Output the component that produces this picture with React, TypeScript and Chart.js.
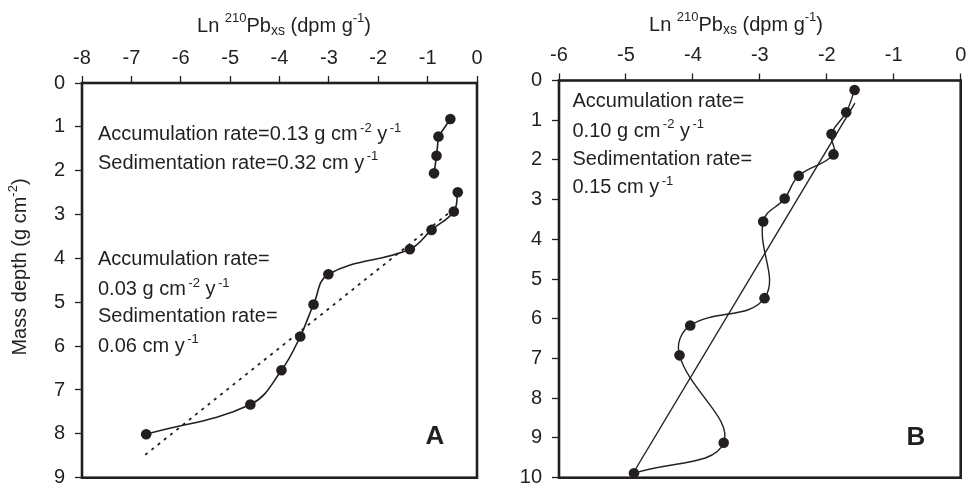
import React, { useEffect, useRef } from "react";
import { Chart, registerables } from "chart.js";

Chart.register(...registerables);

const FONT = '"Liberation Sans", Arial, Helvetica, sans-serif';
const INK = "#231f20";

// ---------- Panel A data ----------
const aLnMin = -8;
const aLnMax = 0;
const aDepthMax = 9;
const aSurfaceLn = [-0.54, -0.78, -0.82, -0.87];
const aSurfaceDepth = [0.82, 1.22, 1.66, 2.06];
const aDeepLn = [-0.39, -0.47, -0.92, -1.36, -3.01, -3.31, -3.58, -3.96, -4.59, -6.7];
const aDeepDepth = [2.49, 2.93, 3.35, 3.79, 4.36, 5.05, 5.78, 6.55, 7.33, 8.01];
const aFitLn = [-6.72, -0.5];
const aFitDepth = [8.48, 2.9];

// ---------- Panel B data ----------
const bLnMin = -6;
const bLnMax = 0;
const bDepthMax = 10;
const bLn = [-1.585, -1.71, -1.93, -1.9, -2.42, -2.63, -2.95, -2.93, -4.04, -4.2, -3.54, -4.88];
const bDepth = [0.24, 0.8, 1.35, 1.86, 2.4, 2.97, 3.55, 5.48, 6.17, 6.92, 9.12, 9.89];
const bFitLn = [-1.58, -4.88];
const bFitDepth = [0.57, 9.85];

type Part = { t: string; s?: "sup" | "sub"; gap?: number };

const titleParts: Part[] = [
  { t: "Ln " },
  { t: "210", s: "sup" },
  { t: "Pb" },
  { t: "xs", s: "sub" },
  { t: " (dpm g" },
  { t: "-1", s: "sup" },
  { t: ")" },
];
const yTitleParts: Part[] = [{ t: "Mass depth (g cm" }, { t: "-2", s: "sup" }, { t: ")" }];

const aNotes: Part[][] = [
  [{ t: "Accumulation rate=0.13 g cm" }, { t: "-2", s: "sup", gap: 2.5 }, { t: " y" }, { t: "-1", s: "sup", gap: 2.5 }],
  [{ t: "Sedimentation rate=0.32 cm y" }, { t: "-1", s: "sup", gap: 2.5 }],
  [{ t: "Accumulation rate=" }],
  [{ t: "0.03 g cm" }, { t: "-2", s: "sup", gap: 2.5 }, { t: " y" }, { t: "-1", s: "sup", gap: 2.5 }],
  [{ t: "Sedimentation rate=" }],
  [{ t: "0.06 cm y" }, { t: "-1", s: "sup", gap: 2.5 }],
];
const aNoteBaselines = [140, 168.5, 265, 295, 321.7, 351.7];
const bNotes: Part[][] = [
  [{ t: "Accumulation rate=" }],
  [{ t: "0.10 g cm" }, { t: "-2", s: "sup", gap: 2.5 }, { t: " y" }, { t: "-1", s: "sup", gap: 2.5 }],
  [{ t: "Sedimentation rate=" }],
  [{ t: "0.15 cm y" }, { t: "-1", s: "sup", gap: 2.5 }],
];
const bNoteBaselines = [107.3, 136.7, 165, 193.3];

interface RichOpts {
  size: number;
  supSize: number;
  supRise: number;
  subSize: number;
  subDrop: number;
  align: "left" | "center";
}

function fontOf(px: number, bold = false) {
  return `${bold ? "bold " : ""}${px}px ${FONT}`;
}

function drawRich(ctx: CanvasRenderingContext2D, parts: Part[], x: number, y: number, o: RichOpts) {
  const sizeOf = (p: Part) => (p.s === "sup" ? o.supSize : p.s === "sub" ? o.subSize : o.size);
  let total = 0;
  for (const p of parts) {
    ctx.font = fontOf(sizeOf(p));
    total += ctx.measureText(p.t).width + (p.gap || 0);
  }
  let cx = o.align === "center" ? x - total / 2 : x;
  ctx.textAlign = "left";
  ctx.textBaseline = "alphabetic";
  for (const p of parts) {
    ctx.font = fontOf(sizeOf(p));
    cx += p.gap || 0;
    const dy = p.s === "sup" ? -o.supRise : p.s === "sub" ? o.subDrop : 0;
    ctx.fillText(p.t, cx, y + dy);
    cx += ctx.measureText(p.t).width;
  }
}

const noteOpts: RichOpts = { size: 20, supSize: 13, supRise: 8.5, subSize: 14, subDrop: 3, align: "left" };
const titleOpts: RichOpts = { size: 20, supSize: 13, supRise: 10, subSize: 14, subDrop: 3, align: "center" };

interface PanelCfg {
  left: number;
  right: number;
  top: number;
  bottom: number;
  xMin: number;
  xMax: number;
  yMax: number;
  datasets: any[];
  titleX: number;
  titleY: number;
  notes: Part[][];
  noteBaselines: number[];
  noteX: number;
  letter: string;
  letterX: number;
  letterY: number;
  yTitle: boolean;
}

const W = 966;
const H = 486;

function pts(xs: number[], ys: number[]) {
  return xs.map((x, i) => ({ x, y: ys[i] }));
}

function makeChart(canvas: HTMLCanvasElement, c: PanelCfg) {
  const tickFont = { size: 20, family: FONT };
  const grid = {
    drawOnChartArea: false,
    drawTicks: true,
    tickLength: 7,
    tickWidth: 1.3,
    tickColor: INK,
    color: INK,
  };
  const deco = {
    id: "deco",
    beforeDatasetsDraw(chart: any) {
      const ctx = chart.ctx as CanvasRenderingContext2D;
      const a = chart.chartArea;
      ctx.save();
      ctx.strokeStyle = INK;
      ctx.lineWidth = 2.6;
      ctx.strokeRect(a.left, a.top, a.right - a.left, a.bottom - a.top);
      ctx.restore();
    },
    afterDraw(chart: any) {
      const ctx = chart.ctx as CanvasRenderingContext2D;
      ctx.save();
      ctx.fillStyle = INK;
      drawRich(ctx, titleParts, c.titleX, c.titleY, titleOpts);
      c.notes.forEach((n, i) => drawRich(ctx, n, c.noteX, c.noteBaselines[i], noteOpts));
      ctx.font = fontOf(26, true);
      ctx.textAlign = "left";
      ctx.textBaseline = "alphabetic";
      ctx.fillText(c.letter, c.letterX, c.letterY);
      if (c.yTitle) {
        ctx.save();
        ctx.translate(26, 267);
        ctx.rotate(-Math.PI / 2);
        drawRich(ctx, yTitleParts, 0, 0, { ...titleOpts, supRise: 9 });
        ctx.restore();
      }
      ctx.restore();
    },
  };
  return new Chart(canvas, {
    type: "scatter",
    data: { datasets: c.datasets },
    options: {
      animation: false,
      responsive: false,
      devicePixelRatio: 1,
      events: [],
      layout: {
        padding: { left: 0, right: W - c.right, top: 0, bottom: H - c.bottom },
      },
      plugins: { legend: { display: false }, tooltip: { enabled: false } },
      scales: {
        x: {
          type: "linear",
          position: "top",
          min: c.xMin,
          max: c.xMax,
          ticks: { stepSize: 1, font: tickFont, color: INK, padding: 6, maxRotation: 0, autoSkip: false },
          grid,
          border: { display: false },
          afterFit(s: any) {
            s.height = c.top;
            s.paddingLeft = 0;
            s.paddingRight = 0;
          },
        },
        y: {
          type: "linear",
          position: "left",
          reverse: true,
          min: 0,
          max: c.yMax,
          ticks: { stepSize: 1, font: tickFont, color: INK, padding: 10, autoSkip: false },
          grid,
          border: { display: false },
          afterFit(s: any) {
            s.width = c.left;
            s.paddingTop = 0;
            s.paddingBottom = 0;
          },
        },
      },
    } as any,
    plugins: [deco],
  });
}

const markerStyle = {
  pointRadius: 5.3,
  pointBackgroundColor: INK,
  pointBorderColor: INK,
  pointBorderWidth: 0,
  borderColor: INK,
  borderWidth: 1.6,
  showLine: true,
  clip: false,
};

export default function App() {
  const refA = useRef<HTMLCanvasElement>(null);
  const refB = useRef<HTMLCanvasElement>(null);

  useEffect(() => {
    const chartA = makeChart(refA.current!, {
      left: 82,
      right: 477,
      top: 83,
      bottom: 477.7,
      xMin: aLnMin,
      xMax: aLnMax,
      yMax: aDepthMax,
      datasets: [
        {
          data: pts(aFitLn, aFitDepth),
          showLine: true,
          pointRadius: 0,
          borderColor: INK,
          borderWidth: 1.8,
          borderDash: [3, 5],
          tension: 0,
          clip: false,
        },
        { ...markerStyle, data: pts(aDeepLn, aDeepDepth), tension: 0.4 },
        { ...markerStyle, data: pts(aSurfaceLn, aSurfaceDepth), tension: 0 },
      ],
      titleX: 284,
      titleY: 32.3,
      notes: aNotes,
      noteBaselines: aNoteBaselines,
      noteX: 98,
      letter: "A",
      letterX: 425.5,
      letterY: 444,
      yTitle: true,
    });

    const chartB = makeChart(refB.current!, {
      left: 559,
      right: 962,
      top: 80.5,
      bottom: 477.7,
      xMin: bLnMin,
      xMax: bLnMax,
      yMax: bDepthMax,
      datasets: [
        {
          data: pts(bFitLn, bFitDepth),
          showLine: true,
          pointRadius: 0,
          borderColor: INK,
          borderWidth: 1.4,
          tension: 0,
          clip: false,
        },
        { ...markerStyle, data: pts(bLn, bDepth), tension: 0.4, borderWidth: 1.4 },
      ],
      titleX: 736,
      titleY: 31,
      notes: bNotes,
      noteBaselines: bNoteBaselines,
      noteX: 572.5,
      letter: "B",
      letterX: 906.5,
      letterY: 445,
      yTitle: false,
    });

    return () => {
      chartA.destroy();
      chartB.destroy();
    };
  }, []);

  const cs: React.CSSProperties = { position: "absolute", left: 0, top: 0, width: W, height: H };
  return (
    <div style={{ position: "fixed", left: 0, top: 0, width: W, height: H, background: "#fff" }}>
      <canvas ref={refA} width={W} height={H} style={cs} />
      <canvas ref={refB} width={W} height={H} style={cs} />
    </div>
  );
}
